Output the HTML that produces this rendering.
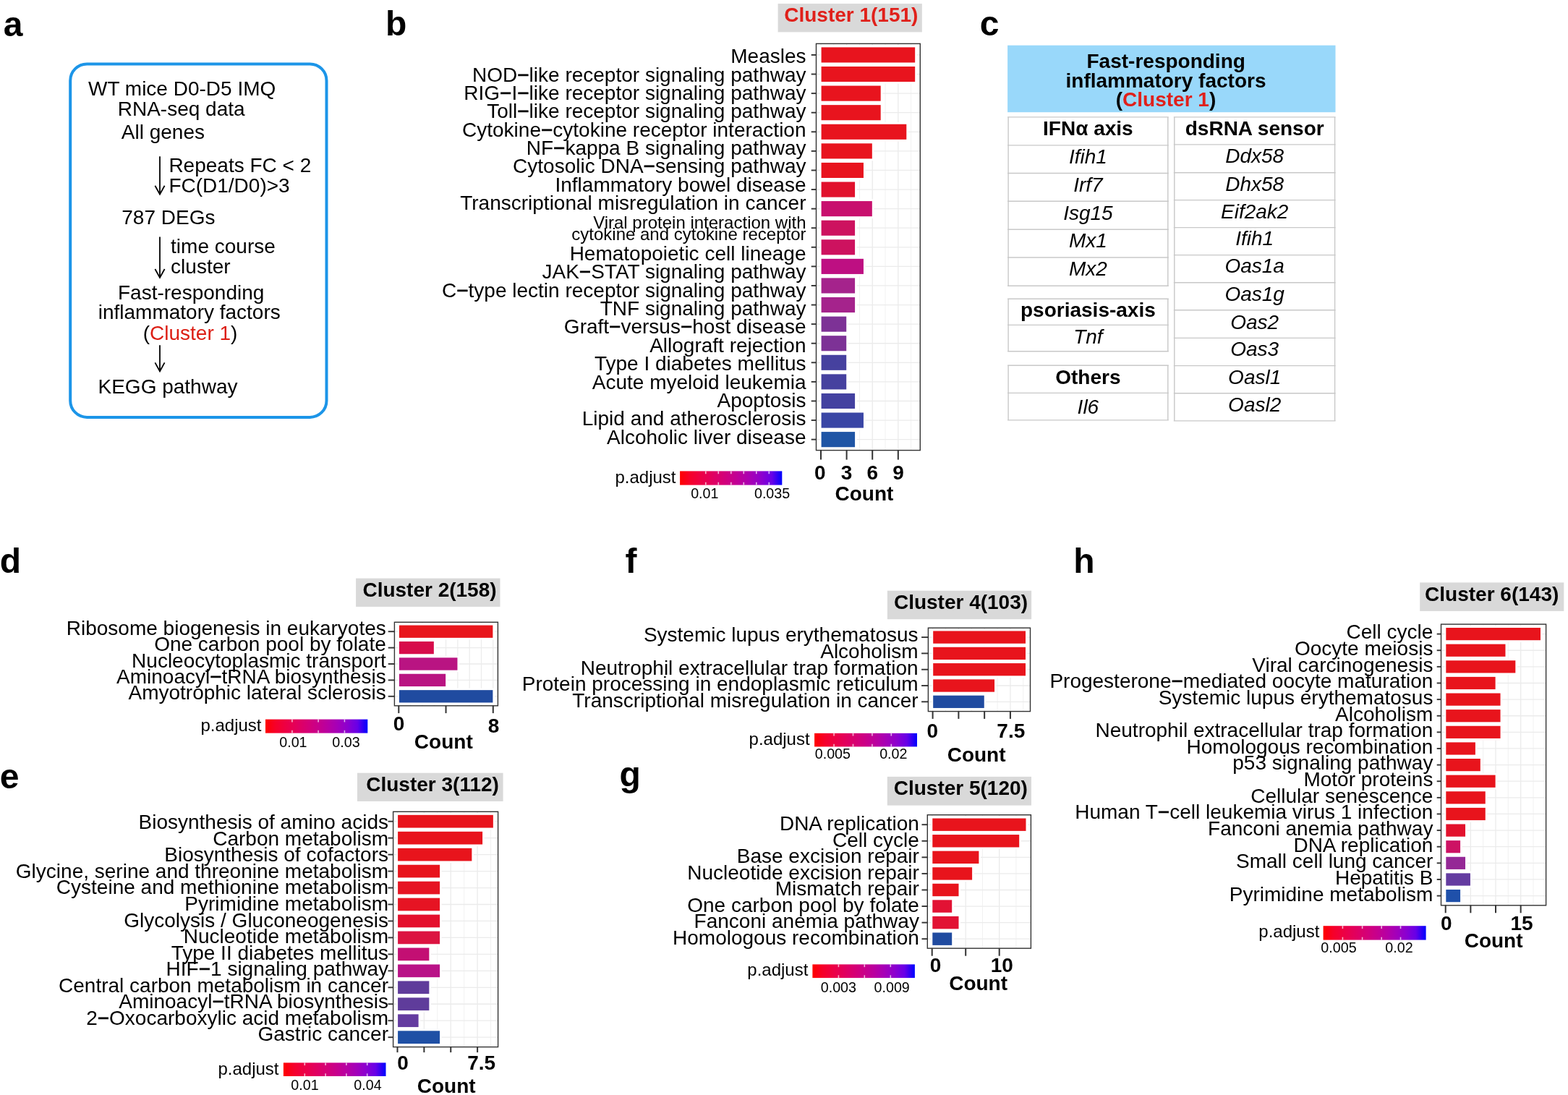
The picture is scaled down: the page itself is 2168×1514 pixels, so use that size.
<!DOCTYPE html>
<html><head><meta charset="utf-8"><title>KEGG pathway enrichment of time-course clusters</title>
<style>
html,body{margin:0;padding:0;background:#fff;}
body{width:2168px;height:1514px;overflow:hidden;}
svg{display:block;}
text{font-family:'Liberation Sans', Arial, Helvetica, sans-serif;}
</style></head>
<body>
<svg width="2168" height="1514" viewBox="0 0 2168 1514">
<rect x="0" y="0" width="2168" height="1514" fill="#fff"/>
<text x="4.7" y="49.6" font-size="48" font-weight="bold">a</text>
<text x="533.1" y="49.3" font-size="48" font-weight="bold">b</text>
<text x="1354.7" y="48.5" font-size="48" font-weight="bold">c</text>
<text x="-0.2" y="792.0" font-size="48" font-weight="bold">d</text>
<text x="-0.2" y="1089.5" font-size="48" font-weight="bold">e</text>
<text x="864.6" y="791.5" font-size="48" font-weight="bold">f</text>
<text x="856.5" y="1087.0" font-size="48" font-weight="bold">g</text>
<text x="1484.3" y="791.5" font-size="48" font-weight="bold">h</text>
<rect x="97.2" y="88.4" width="354.3" height="488.5" rx="23" ry="23" fill="none" stroke="#1c95e8" stroke-width="4"/>
<text x="122.0" y="131.5" font-size="28">WT mice D0-D5 IMQ</text>
<text x="162.7" y="159.7" font-size="28">RNA-seq data</text>
<text x="167.8" y="192.0" font-size="28">All genes</text>
<text x="233.4" y="238.0" font-size="28">Repeats FC &lt; 2</text>
<text x="233.4" y="265.5" font-size="28">FC(D1/D0)&gt;3</text>
<text x="168.3" y="309.9" font-size="28">787 DEGs</text>
<text x="236.1" y="349.8" font-size="28">time course</text>
<text x="236.1" y="377.5" font-size="28">cluster</text>
<text x="163.0" y="413.6" font-size="28">Fast-responding</text>
<text x="135.7" y="441.3" font-size="28">inflammatory factors</text>
<text x="135.5" y="543.9" font-size="28">KEGG pathway</text>
<text x="197.7" y="470.0" font-size="28">(<tspan fill="#dc1e14">Cluster 1</tspan>)</text>
<line x1="221.00" y1="216.20" x2="221.00" y2="267.70" stroke="#000" stroke-width="1.8"/>
<polyline points="214.4,256.7 221.0,268.7 227.6,256.7" fill="none" stroke="#000" stroke-width="1.8"/>
<line x1="221.00" y1="327.60" x2="221.00" y2="383.00" stroke="#000" stroke-width="1.8"/>
<polyline points="214.4,372.0 221.0,384.0 227.6,372.0" fill="none" stroke="#000" stroke-width="1.8"/>
<line x1="221.00" y1="477.30" x2="221.00" y2="512.40" stroke="#000" stroke-width="1.8"/>
<polyline points="214.4,501.4 221.0,513.4 227.6,501.4" fill="none" stroke="#000" stroke-width="1.8"/>
<rect x="1393.10" y="62.70" width="453.40" height="92.50" fill="#99d8fa"/>
<text x="1612.2" y="93.7" font-size="28" text-anchor="middle" font-weight="bold">Fast-responding</text>
<text x="1612.0" y="121.4" font-size="28" text-anchor="middle" font-weight="bold">inflammatory factors</text>
<text x="1612.0" y="147.4" font-size="28" text-anchor="middle" font-weight="bold">(<tspan fill="#e0201a">Cluster 1</tspan>)</text>
<line x1="1393.10" y1="161.90" x2="1615.80" y2="161.90" stroke="#c8c8c8" stroke-width="1.4"/>
<line x1="1393.10" y1="200.90" x2="1615.80" y2="200.90" stroke="#c8c8c8" stroke-width="1.4"/>
<line x1="1393.10" y1="239.50" x2="1615.80" y2="239.50" stroke="#c8c8c8" stroke-width="1.4"/>
<line x1="1393.10" y1="278.30" x2="1615.80" y2="278.30" stroke="#c8c8c8" stroke-width="1.4"/>
<line x1="1393.10" y1="317.20" x2="1615.80" y2="317.20" stroke="#c8c8c8" stroke-width="1.4"/>
<line x1="1393.10" y1="356.00" x2="1615.80" y2="356.00" stroke="#c8c8c8" stroke-width="1.4"/>
<line x1="1393.10" y1="395.20" x2="1615.80" y2="395.20" stroke="#c8c8c8" stroke-width="1.4"/>
<line x1="1394.10" y1="161.90" x2="1394.10" y2="395.20" stroke="#c8c8c8" stroke-width="1.4"/>
<line x1="1614.80" y1="161.90" x2="1614.80" y2="395.20" stroke="#c8c8c8" stroke-width="1.4"/>
<line x1="1393.10" y1="413.30" x2="1615.80" y2="413.30" stroke="#c8c8c8" stroke-width="1.4"/>
<line x1="1393.10" y1="449.40" x2="1615.80" y2="449.40" stroke="#c8c8c8" stroke-width="1.4"/>
<line x1="1393.10" y1="485.70" x2="1615.80" y2="485.70" stroke="#c8c8c8" stroke-width="1.4"/>
<line x1="1394.10" y1="413.30" x2="1394.10" y2="485.70" stroke="#c8c8c8" stroke-width="1.4"/>
<line x1="1614.80" y1="413.30" x2="1614.80" y2="485.70" stroke="#c8c8c8" stroke-width="1.4"/>
<line x1="1393.10" y1="505.30" x2="1615.80" y2="505.30" stroke="#c8c8c8" stroke-width="1.4"/>
<line x1="1393.10" y1="543.40" x2="1615.80" y2="543.40" stroke="#c8c8c8" stroke-width="1.4"/>
<line x1="1393.10" y1="580.90" x2="1615.80" y2="580.90" stroke="#c8c8c8" stroke-width="1.4"/>
<line x1="1394.10" y1="505.30" x2="1394.10" y2="580.90" stroke="#c8c8c8" stroke-width="1.4"/>
<line x1="1614.80" y1="505.30" x2="1614.80" y2="580.90" stroke="#c8c8c8" stroke-width="1.4"/>
<text x="1504.4" y="187.1" font-size="28" text-anchor="middle" font-weight="bold">IFNα axis</text>
<text x="1504.4" y="226.3" font-size="28" text-anchor="middle" font-style="italic">Ifih1</text>
<text x="1504.4" y="264.7" font-size="28" text-anchor="middle" font-style="italic">Irf7</text>
<text x="1504.4" y="303.5" font-size="28" text-anchor="middle" font-style="italic">Isg15</text>
<text x="1504.4" y="342.3" font-size="28" text-anchor="middle" font-style="italic">Mx1</text>
<text x="1504.4" y="381.1" font-size="28" text-anchor="middle" font-style="italic">Mx2</text>
<text x="1504.4" y="437.6" font-size="28" text-anchor="middle" font-weight="bold">psoriasis-axis</text>
<text x="1504.4" y="475.0" font-size="28" text-anchor="middle" font-style="italic">Tnf</text>
<text x="1504.4" y="530.5" font-size="28" text-anchor="middle" font-weight="bold">Others</text>
<text x="1504.4" y="572.2" font-size="28" text-anchor="middle" font-style="italic">Il6</text>
<line x1="1622.80" y1="161.90" x2="1846.60" y2="161.90" stroke="#c8c8c8" stroke-width="1.4"/>
<line x1="1622.80" y1="199.90" x2="1846.60" y2="199.90" stroke="#c8c8c8" stroke-width="1.4"/>
<line x1="1622.80" y1="238.70" x2="1846.60" y2="238.70" stroke="#c8c8c8" stroke-width="1.4"/>
<line x1="1622.80" y1="276.60" x2="1846.60" y2="276.60" stroke="#c8c8c8" stroke-width="1.4"/>
<line x1="1622.80" y1="314.60" x2="1846.60" y2="314.60" stroke="#c8c8c8" stroke-width="1.4"/>
<line x1="1622.80" y1="352.60" x2="1846.60" y2="352.60" stroke="#c8c8c8" stroke-width="1.4"/>
<line x1="1622.80" y1="390.80" x2="1846.60" y2="390.80" stroke="#c8c8c8" stroke-width="1.4"/>
<line x1="1622.80" y1="428.80" x2="1846.60" y2="428.80" stroke="#c8c8c8" stroke-width="1.4"/>
<line x1="1622.80" y1="467.40" x2="1846.60" y2="467.40" stroke="#c8c8c8" stroke-width="1.4"/>
<line x1="1622.80" y1="505.60" x2="1846.60" y2="505.60" stroke="#c8c8c8" stroke-width="1.4"/>
<line x1="1622.80" y1="543.70" x2="1846.60" y2="543.70" stroke="#c8c8c8" stroke-width="1.4"/>
<line x1="1622.80" y1="581.90" x2="1846.60" y2="581.90" stroke="#c8c8c8" stroke-width="1.4"/>
<line x1="1623.80" y1="161.90" x2="1623.80" y2="581.90" stroke="#c8c8c8" stroke-width="1.4"/>
<line x1="1845.60" y1="161.90" x2="1845.60" y2="581.90" stroke="#c8c8c8" stroke-width="1.4"/>
<text x="1734.7" y="186.7" font-size="28" text-anchor="middle" font-weight="bold">dsRNA sensor</text>
<text x="1734.7" y="225.1" font-size="28" text-anchor="middle" font-style="italic">Ddx58</text>
<text x="1734.7" y="263.6" font-size="28" text-anchor="middle" font-style="italic">Dhx58</text>
<text x="1734.7" y="301.6" font-size="28" text-anchor="middle" font-style="italic">Eif2ak2</text>
<text x="1734.7" y="339.0" font-size="28" text-anchor="middle" font-style="italic">Ifih1</text>
<text x="1734.7" y="377.0" font-size="28" text-anchor="middle" font-style="italic">Oas1a</text>
<text x="1734.7" y="416.0" font-size="28" text-anchor="middle" font-style="italic">Oas1g</text>
<text x="1734.7" y="454.9" font-size="28" text-anchor="middle" font-style="italic">Oas2</text>
<text x="1734.7" y="492.1" font-size="28" text-anchor="middle" font-style="italic">Oas3</text>
<text x="1734.7" y="530.5" font-size="28" text-anchor="middle" font-style="italic">Oasl1</text>
<text x="1734.7" y="569.0" font-size="28" text-anchor="middle" font-style="italic">Oasl2</text>
<rect x="1128.50" y="60.40" width="143.80" height="562.20" fill="#fff"/>
<line x1="1135.00" y1="60.40" x2="1135.00" y2="622.60" stroke="#ebebeb" stroke-width="1.3"/>
<line x1="1170.61" y1="60.40" x2="1170.61" y2="622.60" stroke="#ebebeb" stroke-width="1.3"/>
<line x1="1206.22" y1="60.40" x2="1206.22" y2="622.60" stroke="#ebebeb" stroke-width="1.3"/>
<line x1="1241.83" y1="60.40" x2="1241.83" y2="622.60" stroke="#ebebeb" stroke-width="1.3"/>
<line x1="1152.81" y1="60.40" x2="1152.81" y2="622.60" stroke="#ebebeb" stroke-width="0.7"/>
<line x1="1188.41" y1="60.40" x2="1188.41" y2="622.60" stroke="#ebebeb" stroke-width="0.7"/>
<line x1="1224.03" y1="60.40" x2="1224.03" y2="622.60" stroke="#ebebeb" stroke-width="0.7"/>
<line x1="1259.63" y1="60.40" x2="1259.63" y2="622.60" stroke="#ebebeb" stroke-width="0.7"/>
<line x1="1128.50" y1="75.95" x2="1272.30" y2="75.95" stroke="#ebebeb" stroke-width="1.3"/>
<line x1="1128.50" y1="102.53" x2="1272.30" y2="102.53" stroke="#ebebeb" stroke-width="1.3"/>
<line x1="1128.50" y1="129.12" x2="1272.30" y2="129.12" stroke="#ebebeb" stroke-width="1.3"/>
<line x1="1128.50" y1="155.70" x2="1272.30" y2="155.70" stroke="#ebebeb" stroke-width="1.3"/>
<line x1="1128.50" y1="182.29" x2="1272.30" y2="182.29" stroke="#ebebeb" stroke-width="1.3"/>
<line x1="1128.50" y1="208.88" x2="1272.30" y2="208.88" stroke="#ebebeb" stroke-width="1.3"/>
<line x1="1128.50" y1="235.46" x2="1272.30" y2="235.46" stroke="#ebebeb" stroke-width="1.3"/>
<line x1="1128.50" y1="262.05" x2="1272.30" y2="262.05" stroke="#ebebeb" stroke-width="1.3"/>
<line x1="1128.50" y1="288.63" x2="1272.30" y2="288.63" stroke="#ebebeb" stroke-width="1.3"/>
<line x1="1128.50" y1="315.22" x2="1272.30" y2="315.22" stroke="#ebebeb" stroke-width="1.3"/>
<line x1="1128.50" y1="341.80" x2="1272.30" y2="341.80" stroke="#ebebeb" stroke-width="1.3"/>
<line x1="1128.50" y1="368.38" x2="1272.30" y2="368.38" stroke="#ebebeb" stroke-width="1.3"/>
<line x1="1128.50" y1="394.97" x2="1272.30" y2="394.97" stroke="#ebebeb" stroke-width="1.3"/>
<line x1="1128.50" y1="421.56" x2="1272.30" y2="421.56" stroke="#ebebeb" stroke-width="1.3"/>
<line x1="1128.50" y1="448.14" x2="1272.30" y2="448.14" stroke="#ebebeb" stroke-width="1.3"/>
<line x1="1128.50" y1="474.73" x2="1272.30" y2="474.73" stroke="#ebebeb" stroke-width="1.3"/>
<line x1="1128.50" y1="501.31" x2="1272.30" y2="501.31" stroke="#ebebeb" stroke-width="1.3"/>
<line x1="1128.50" y1="527.89" x2="1272.30" y2="527.89" stroke="#ebebeb" stroke-width="1.3"/>
<line x1="1128.50" y1="554.48" x2="1272.30" y2="554.48" stroke="#ebebeb" stroke-width="1.3"/>
<line x1="1128.50" y1="581.07" x2="1272.30" y2="581.07" stroke="#ebebeb" stroke-width="1.3"/>
<line x1="1128.50" y1="607.65" x2="1272.30" y2="607.65" stroke="#ebebeb" stroke-width="1.3"/>
<rect x="1134.00" y="62.66" width="133.77" height="26.59" fill="#fff"/>
<rect x="1134.00" y="89.24" width="133.77" height="26.59" fill="#fff"/>
<rect x="1134.00" y="115.83" width="86.29" height="26.58" fill="#fff"/>
<rect x="1134.00" y="142.41" width="86.29" height="26.58" fill="#fff"/>
<rect x="1134.00" y="169.00" width="121.90" height="26.58" fill="#fff"/>
<rect x="1134.00" y="195.58" width="74.42" height="26.58" fill="#fff"/>
<rect x="1134.00" y="222.17" width="62.55" height="26.58" fill="#fff"/>
<rect x="1134.00" y="248.75" width="50.68" height="26.59" fill="#fff"/>
<rect x="1134.00" y="275.34" width="74.42" height="26.59" fill="#fff"/>
<rect x="1134.00" y="301.92" width="50.68" height="26.59" fill="#fff"/>
<rect x="1134.00" y="328.51" width="50.68" height="26.59" fill="#fff"/>
<rect x="1134.00" y="355.09" width="62.55" height="26.59" fill="#fff"/>
<rect x="1134.00" y="381.68" width="50.68" height="26.59" fill="#fff"/>
<rect x="1134.00" y="408.26" width="50.68" height="26.59" fill="#fff"/>
<rect x="1134.00" y="434.85" width="38.81" height="26.59" fill="#fff"/>
<rect x="1134.00" y="461.43" width="38.81" height="26.59" fill="#fff"/>
<rect x="1134.00" y="488.02" width="38.81" height="26.58" fill="#fff"/>
<rect x="1134.00" y="514.60" width="38.81" height="26.59" fill="#fff"/>
<rect x="1134.00" y="541.19" width="50.68" height="26.59" fill="#fff"/>
<rect x="1134.00" y="567.77" width="62.55" height="26.59" fill="#fff"/>
<rect x="1134.00" y="594.36" width="50.68" height="26.59" fill="#fff"/>
<rect x="1135.60" y="65.40" width="129.57" height="21.10" fill="#e8141e"/>
<rect x="1135.60" y="91.98" width="129.57" height="21.10" fill="#e8141e"/>
<rect x="1135.60" y="118.57" width="82.09" height="21.10" fill="#e8141e"/>
<rect x="1135.60" y="145.15" width="82.09" height="21.10" fill="#e8141e"/>
<rect x="1135.60" y="171.74" width="117.70" height="21.10" fill="#e8141e"/>
<rect x="1135.60" y="198.32" width="70.22" height="21.10" fill="#e8141e"/>
<rect x="1135.60" y="224.91" width="58.35" height="21.10" fill="#e8141e"/>
<rect x="1135.60" y="251.50" width="46.48" height="21.10" fill="#e1122d"/>
<rect x="1135.60" y="278.08" width="70.22" height="21.10" fill="#c8106e"/>
<rect x="1135.60" y="304.67" width="46.48" height="21.10" fill="#cd125f"/>
<rect x="1135.60" y="331.25" width="46.48" height="21.10" fill="#cd125f"/>
<rect x="1135.60" y="357.83" width="58.35" height="21.10" fill="#be0f82"/>
<rect x="1135.60" y="384.42" width="46.48" height="21.10" fill="#a5238c"/>
<rect x="1135.60" y="411.00" width="46.48" height="21.10" fill="#a5238c"/>
<rect x="1135.60" y="437.59" width="34.61" height="21.10" fill="#7d3296"/>
<rect x="1135.60" y="464.18" width="34.61" height="21.10" fill="#7d3296"/>
<rect x="1135.60" y="490.76" width="34.61" height="21.10" fill="#46419f"/>
<rect x="1135.60" y="517.35" width="34.61" height="21.10" fill="#46419f"/>
<rect x="1135.60" y="543.93" width="46.48" height="21.10" fill="#4341a0"/>
<rect x="1135.60" y="570.52" width="58.35" height="21.10" fill="#3a46a5"/>
<rect x="1135.60" y="597.10" width="46.48" height="21.10" fill="#1f55a5"/>
<rect x="1128.50" y="60.40" width="143.80" height="562.20" fill="none" stroke="#333" stroke-width="1.4"/>
<line x1="1121.70" y1="75.95" x2="1128.50" y2="75.95" stroke="#333" stroke-width="1.9"/>
<line x1="1121.70" y1="102.53" x2="1128.50" y2="102.53" stroke="#333" stroke-width="1.9"/>
<line x1="1121.70" y1="129.12" x2="1128.50" y2="129.12" stroke="#333" stroke-width="1.9"/>
<line x1="1121.70" y1="155.70" x2="1128.50" y2="155.70" stroke="#333" stroke-width="1.9"/>
<line x1="1121.70" y1="182.29" x2="1128.50" y2="182.29" stroke="#333" stroke-width="1.9"/>
<line x1="1121.70" y1="208.88" x2="1128.50" y2="208.88" stroke="#333" stroke-width="1.9"/>
<line x1="1121.70" y1="235.46" x2="1128.50" y2="235.46" stroke="#333" stroke-width="1.9"/>
<line x1="1121.70" y1="262.05" x2="1128.50" y2="262.05" stroke="#333" stroke-width="1.9"/>
<line x1="1121.70" y1="288.63" x2="1128.50" y2="288.63" stroke="#333" stroke-width="1.9"/>
<line x1="1121.70" y1="315.22" x2="1128.50" y2="315.22" stroke="#333" stroke-width="1.9"/>
<line x1="1121.70" y1="341.80" x2="1128.50" y2="341.80" stroke="#333" stroke-width="1.9"/>
<line x1="1121.70" y1="368.38" x2="1128.50" y2="368.38" stroke="#333" stroke-width="1.9"/>
<line x1="1121.70" y1="394.97" x2="1128.50" y2="394.97" stroke="#333" stroke-width="1.9"/>
<line x1="1121.70" y1="421.56" x2="1128.50" y2="421.56" stroke="#333" stroke-width="1.9"/>
<line x1="1121.70" y1="448.14" x2="1128.50" y2="448.14" stroke="#333" stroke-width="1.9"/>
<line x1="1121.70" y1="474.73" x2="1128.50" y2="474.73" stroke="#333" stroke-width="1.9"/>
<line x1="1121.70" y1="501.31" x2="1128.50" y2="501.31" stroke="#333" stroke-width="1.9"/>
<line x1="1121.70" y1="527.89" x2="1128.50" y2="527.89" stroke="#333" stroke-width="1.9"/>
<line x1="1121.70" y1="554.48" x2="1128.50" y2="554.48" stroke="#333" stroke-width="1.9"/>
<line x1="1121.70" y1="581.07" x2="1128.50" y2="581.07" stroke="#333" stroke-width="1.9"/>
<line x1="1121.70" y1="607.65" x2="1128.50" y2="607.65" stroke="#333" stroke-width="1.9"/>
<line x1="1135.00" y1="622.60" x2="1135.00" y2="635.60" stroke="#333" stroke-width="2.0"/>
<line x1="1170.61" y1="622.60" x2="1170.61" y2="635.60" stroke="#333" stroke-width="2.0"/>
<line x1="1206.22" y1="622.60" x2="1206.22" y2="635.60" stroke="#333" stroke-width="2.0"/>
<line x1="1241.83" y1="622.60" x2="1241.83" y2="635.60" stroke="#333" stroke-width="2.0"/>
<text x="1133.8" y="663.1" font-size="28" text-anchor="middle" font-weight="bold">0</text>
<text x="1170.5" y="663.1" font-size="28" text-anchor="middle" font-weight="bold">3</text>
<text x="1206.3" y="663.1" font-size="28" text-anchor="middle" font-weight="bold">6</text>
<text x="1242.0" y="663.1" font-size="28" text-anchor="middle" font-weight="bold">9</text>
<text x="1194.9" y="692.2" font-size="28" text-anchor="middle" font-weight="bold">Count</text>
<text x="1114.5" y="87.2" font-size="28" text-anchor="end">Measles</text>
<text x="1114.5" y="112.6" font-size="28" text-anchor="end">NOD<tspan stroke="#000" stroke-width="0.6">−</tspan>like receptor signaling pathway</text>
<text x="1114.5" y="137.9" font-size="28" text-anchor="end">RIG<tspan stroke="#000" stroke-width="0.6">−</tspan>I<tspan stroke="#000" stroke-width="0.6">−</tspan>like receptor signaling pathway</text>
<text x="1114.5" y="163.2" font-size="28" text-anchor="end">Toll<tspan stroke="#000" stroke-width="0.6">−</tspan>like receptor signaling pathway</text>
<text x="1114.5" y="188.6" font-size="28" text-anchor="end">Cytokine<tspan stroke="#000" stroke-width="0.6">−</tspan>cytokine receptor interaction</text>
<text x="1114.5" y="213.9" font-size="28" text-anchor="end">NF<tspan stroke="#000" stroke-width="0.6">−</tspan>kappa B signaling pathway</text>
<text x="1114.5" y="239.3" font-size="28" text-anchor="end">Cytosolic DNA<tspan stroke="#000" stroke-width="0.6">−</tspan>sensing pathway</text>
<text x="1114.5" y="264.7" font-size="28" text-anchor="end">Inflammatory bowel disease</text>
<text x="1114.5" y="290.0" font-size="28" text-anchor="end">Transcriptional misregulation in cancer</text>
<text x="1114.5" y="315.7" font-size="24" text-anchor="end">Viral protein interaction with</text>
<text x="1114.5" y="332.3" font-size="24" text-anchor="end">cytokine and cytokine receptor</text>
<text x="1114.5" y="359.8" font-size="28" text-anchor="end">Hematopoietic cell lineage</text>
<text x="1114.5" y="385.2" font-size="28" text-anchor="end">JAK<tspan stroke="#000" stroke-width="0.6">−</tspan>STAT signaling pathway</text>
<text x="1114.5" y="410.6" font-size="28" text-anchor="end">C<tspan stroke="#000" stroke-width="0.6">−</tspan>type lectin receptor signaling pathway</text>
<text x="1114.5" y="436.0" font-size="28" text-anchor="end">TNF signaling pathway</text>
<text x="1114.5" y="461.4" font-size="28" text-anchor="end">Graft<tspan stroke="#000" stroke-width="0.6">−</tspan>versus<tspan stroke="#000" stroke-width="0.6">−</tspan>host disease</text>
<text x="1114.5" y="486.8" font-size="28" text-anchor="end">Allograft rejection</text>
<text x="1114.5" y="512.1" font-size="28" text-anchor="end">Type I diabetes mellitus</text>
<text x="1114.5" y="537.5" font-size="28" text-anchor="end">Acute myeloid leukemia</text>
<text x="1114.5" y="562.9" font-size="28" text-anchor="end">Apoptosis</text>
<text x="1114.5" y="588.3" font-size="28" text-anchor="end">Lipid and atherosclerosis</text>
<text x="1114.5" y="613.7" font-size="28" text-anchor="end">Alcoholic liver disease</text>
<text x="934.5" y="668.4" font-size="24" text-anchor="end">p.adjust</text>
<defs><linearGradient id="g1" x1="0" y1="0" x2="1" y2="0"><stop offset="0.00" stop-color="#ff0000"/><stop offset="0.10" stop-color="#f6002a"/><stop offset="0.20" stop-color="#ed0044"/><stop offset="0.30" stop-color="#e3005b"/><stop offset="0.40" stop-color="#d70072"/><stop offset="0.50" stop-color="#ca0088"/><stop offset="0.60" stop-color="#ba009f"/><stop offset="0.70" stop-color="#a600b7"/><stop offset="0.80" stop-color="#8d00ce"/><stop offset="0.90" stop-color="#6800e7"/><stop offset="1.00" stop-color="#0000ff"/></linearGradient></defs>
<rect x="940.10" y="651.40" width="141.20" height="19.20" fill="url(#g1)"/>
<line x1="975.80" y1="651.40" x2="975.80" y2="655.24" stroke="#fff" stroke-width="1.6" opacity="0.7"/>
<line x1="975.80" y1="666.76" x2="975.80" y2="670.60" stroke="#fff" stroke-width="1.6" opacity="0.7"/>
<line x1="993.30" y1="651.40" x2="993.30" y2="655.24" stroke="#fff" stroke-width="1.6" opacity="0.7"/>
<line x1="993.30" y1="666.76" x2="993.30" y2="670.60" stroke="#fff" stroke-width="1.6" opacity="0.7"/>
<line x1="1010.80" y1="651.40" x2="1010.80" y2="655.24" stroke="#fff" stroke-width="1.6" opacity="0.7"/>
<line x1="1010.80" y1="666.76" x2="1010.80" y2="670.60" stroke="#fff" stroke-width="1.6" opacity="0.7"/>
<line x1="1028.30" y1="651.40" x2="1028.30" y2="655.24" stroke="#fff" stroke-width="1.6" opacity="0.7"/>
<line x1="1028.30" y1="666.76" x2="1028.30" y2="670.60" stroke="#fff" stroke-width="1.6" opacity="0.7"/>
<line x1="1045.80" y1="651.40" x2="1045.80" y2="655.24" stroke="#fff" stroke-width="1.6" opacity="0.7"/>
<line x1="1045.80" y1="666.76" x2="1045.80" y2="670.60" stroke="#fff" stroke-width="1.6" opacity="0.7"/>
<line x1="1063.30" y1="651.40" x2="1063.30" y2="655.24" stroke="#fff" stroke-width="1.6" opacity="0.7"/>
<line x1="1063.30" y1="666.76" x2="1063.30" y2="670.60" stroke="#fff" stroke-width="1.6" opacity="0.7"/>
<text x="974.3" y="688.6" font-size="19.7" text-anchor="middle">0.01</text>
<text x="1067.6" y="688.6" font-size="19.7" text-anchor="middle">0.035</text>
<rect x="1075.60" y="5.10" width="199.20" height="39.30" fill="#d9d9d9"/>
<text x="1176.8" y="30.4" font-size="28" text-anchor="middle" font-weight="bold" fill="#e0201a">Cluster 1(151)</text>
<rect x="545.40" y="860.30" width="143.00" height="115.50" fill="#fff"/>
<line x1="551.30" y1="860.30" x2="551.30" y2="975.80" stroke="#ebebeb" stroke-width="1.2"/>
<line x1="567.61" y1="860.30" x2="567.61" y2="975.80" stroke="#ebebeb" stroke-width="1.2"/>
<line x1="583.92" y1="860.30" x2="583.92" y2="975.80" stroke="#ebebeb" stroke-width="1.2"/>
<line x1="600.23" y1="860.30" x2="600.23" y2="975.80" stroke="#ebebeb" stroke-width="1.2"/>
<line x1="616.54" y1="860.30" x2="616.54" y2="975.80" stroke="#ebebeb" stroke-width="1.2"/>
<line x1="632.85" y1="860.30" x2="632.85" y2="975.80" stroke="#ebebeb" stroke-width="1.2"/>
<line x1="649.16" y1="860.30" x2="649.16" y2="975.80" stroke="#ebebeb" stroke-width="1.2"/>
<line x1="665.47" y1="860.30" x2="665.47" y2="975.80" stroke="#ebebeb" stroke-width="1.2"/>
<line x1="681.78" y1="860.30" x2="681.78" y2="975.80" stroke="#ebebeb" stroke-width="1.2"/>
<line x1="545.40" y1="873.20" x2="688.40" y2="873.20" stroke="#ebebeb" stroke-width="1.3"/>
<line x1="545.40" y1="895.60" x2="688.40" y2="895.60" stroke="#ebebeb" stroke-width="1.3"/>
<line x1="545.40" y1="918.00" x2="688.40" y2="918.00" stroke="#ebebeb" stroke-width="1.3"/>
<line x1="545.40" y1="940.40" x2="688.40" y2="940.40" stroke="#ebebeb" stroke-width="1.3"/>
<line x1="545.40" y1="962.80" x2="688.40" y2="962.80" stroke="#ebebeb" stroke-width="1.3"/>
<rect x="550.30" y="862.00" width="133.68" height="22.40" fill="#fff"/>
<rect x="550.30" y="884.40" width="52.13" height="22.40" fill="#fff"/>
<rect x="550.30" y="906.80" width="84.75" height="22.40" fill="#fff"/>
<rect x="550.30" y="929.20" width="68.44" height="22.40" fill="#fff"/>
<rect x="550.30" y="951.60" width="133.68" height="22.40" fill="#fff"/>
<rect x="551.90" y="864.55" width="129.48" height="17.30" fill="#e8161c"/>
<rect x="551.90" y="886.95" width="47.93" height="17.30" fill="#d70c4b"/>
<rect x="551.90" y="909.35" width="80.55" height="17.30" fill="#b91482"/>
<rect x="551.90" y="931.75" width="64.24" height="17.30" fill="#b91482"/>
<rect x="551.90" y="954.15" width="129.48" height="17.30" fill="#204ba0"/>
<rect x="545.40" y="860.30" width="143.00" height="115.50" fill="none" stroke="#333" stroke-width="1.4"/>
<line x1="536.70" y1="873.20" x2="545.40" y2="873.20" stroke="#333" stroke-width="1.9"/>
<line x1="536.70" y1="895.60" x2="545.40" y2="895.60" stroke="#333" stroke-width="1.9"/>
<line x1="536.70" y1="918.00" x2="545.40" y2="918.00" stroke="#333" stroke-width="1.9"/>
<line x1="536.70" y1="940.40" x2="545.40" y2="940.40" stroke="#333" stroke-width="1.9"/>
<line x1="536.70" y1="962.80" x2="545.40" y2="962.80" stroke="#333" stroke-width="1.9"/>
<line x1="551.30" y1="975.80" x2="551.30" y2="986.10" stroke="#333" stroke-width="2.0"/>
<line x1="616.54" y1="975.80" x2="616.54" y2="986.10" stroke="#333" stroke-width="2.0"/>
<line x1="681.78" y1="975.80" x2="681.78" y2="986.10" stroke="#333" stroke-width="2.0"/>
<text x="551.5" y="1010.4" font-size="28" text-anchor="middle" font-weight="bold">0</text>
<text x="682.6" y="1013.1" font-size="28" text-anchor="middle" font-weight="bold">8</text>
<text x="613.3" y="1034.5" font-size="28" text-anchor="middle" font-weight="bold">Count</text>
<text x="533.8" y="877.8" font-size="28" text-anchor="end">Ribosome biogenesis in eukaryotes</text>
<text x="533.8" y="900.2" font-size="28" text-anchor="end">One carbon pool by folate</text>
<text x="533.8" y="922.6" font-size="28" text-anchor="end">Nucleocytoplasmic transport</text>
<text x="533.8" y="945.0" font-size="28" text-anchor="end">Aminoacyl<tspan stroke="#000" stroke-width="0.6">−</tspan>tRNA biosynthesis</text>
<text x="533.8" y="967.4" font-size="28" text-anchor="end">Amyotrophic lateral sclerosis</text>
<text x="361.5" y="1010.9" font-size="24" text-anchor="end">p.adjust</text>
<defs><linearGradient id="g2" x1="0" y1="0" x2="1" y2="0"><stop offset="0.00" stop-color="#ff0000"/><stop offset="0.10" stop-color="#f6002a"/><stop offset="0.20" stop-color="#ed0044"/><stop offset="0.30" stop-color="#e3005b"/><stop offset="0.40" stop-color="#d70072"/><stop offset="0.50" stop-color="#ca0088"/><stop offset="0.60" stop-color="#ba009f"/><stop offset="0.70" stop-color="#a600b7"/><stop offset="0.80" stop-color="#8d00ce"/><stop offset="0.90" stop-color="#6800e7"/><stop offset="1.00" stop-color="#0000ff"/></linearGradient></defs>
<rect x="367.00" y="994.60" width="141.30" height="19.00" fill="url(#g2)"/>
<line x1="403.90" y1="994.60" x2="403.90" y2="998.40" stroke="#fff" stroke-width="1.6" opacity="0.7"/>
<line x1="403.90" y1="1009.80" x2="403.90" y2="1013.60" stroke="#fff" stroke-width="1.6" opacity="0.7"/>
<line x1="440.10" y1="994.60" x2="440.10" y2="998.40" stroke="#fff" stroke-width="1.6" opacity="0.7"/>
<line x1="440.10" y1="1009.80" x2="440.10" y2="1013.60" stroke="#fff" stroke-width="1.6" opacity="0.7"/>
<line x1="476.40" y1="994.60" x2="476.40" y2="998.40" stroke="#fff" stroke-width="1.6" opacity="0.7"/>
<line x1="476.40" y1="1009.80" x2="476.40" y2="1013.60" stroke="#fff" stroke-width="1.6" opacity="0.7"/>
<text x="405.4" y="1032.8" font-size="19.7" text-anchor="middle">0.01</text>
<text x="478.5" y="1032.8" font-size="19.7" text-anchor="middle">0.03</text>
<rect x="492.10" y="799.60" width="199.40" height="39.30" fill="#d9d9d9"/>
<text x="594.0" y="825.0" font-size="28" text-anchor="middle" font-weight="bold">Cluster 2(158)</text>
<rect x="543.60" y="1122.30" width="145.00" height="325.30" fill="#fff"/>
<line x1="549.50" y1="1122.30" x2="549.50" y2="1447.60" stroke="#ebebeb" stroke-width="1.3"/>
<line x1="586.38" y1="1122.30" x2="586.38" y2="1447.60" stroke="#ebebeb" stroke-width="1.3"/>
<line x1="623.25" y1="1122.30" x2="623.25" y2="1447.60" stroke="#ebebeb" stroke-width="1.3"/>
<line x1="660.12" y1="1122.30" x2="660.12" y2="1447.60" stroke="#ebebeb" stroke-width="1.3"/>
<line x1="567.94" y1="1122.30" x2="567.94" y2="1447.60" stroke="#ebebeb" stroke-width="0.7"/>
<line x1="604.81" y1="1122.30" x2="604.81" y2="1447.60" stroke="#ebebeb" stroke-width="0.7"/>
<line x1="641.69" y1="1122.30" x2="641.69" y2="1447.60" stroke="#ebebeb" stroke-width="0.7"/>
<line x1="678.56" y1="1122.30" x2="678.56" y2="1447.60" stroke="#ebebeb" stroke-width="0.7"/>
<line x1="543.60" y1="1135.70" x2="688.60" y2="1135.70" stroke="#ebebeb" stroke-width="1.3"/>
<line x1="543.60" y1="1158.66" x2="688.60" y2="1158.66" stroke="#ebebeb" stroke-width="1.3"/>
<line x1="543.60" y1="1181.62" x2="688.60" y2="1181.62" stroke="#ebebeb" stroke-width="1.3"/>
<line x1="543.60" y1="1204.58" x2="688.60" y2="1204.58" stroke="#ebebeb" stroke-width="1.3"/>
<line x1="543.60" y1="1227.54" x2="688.60" y2="1227.54" stroke="#ebebeb" stroke-width="1.3"/>
<line x1="543.60" y1="1250.50" x2="688.60" y2="1250.50" stroke="#ebebeb" stroke-width="1.3"/>
<line x1="543.60" y1="1273.46" x2="688.60" y2="1273.46" stroke="#ebebeb" stroke-width="1.3"/>
<line x1="543.60" y1="1296.42" x2="688.60" y2="1296.42" stroke="#ebebeb" stroke-width="1.3"/>
<line x1="543.60" y1="1319.38" x2="688.60" y2="1319.38" stroke="#ebebeb" stroke-width="1.3"/>
<line x1="543.60" y1="1342.34" x2="688.60" y2="1342.34" stroke="#ebebeb" stroke-width="1.3"/>
<line x1="543.60" y1="1365.30" x2="688.60" y2="1365.30" stroke="#ebebeb" stroke-width="1.3"/>
<line x1="543.60" y1="1388.26" x2="688.60" y2="1388.26" stroke="#ebebeb" stroke-width="1.3"/>
<line x1="543.60" y1="1411.22" x2="688.60" y2="1411.22" stroke="#ebebeb" stroke-width="1.3"/>
<line x1="543.60" y1="1434.18" x2="688.60" y2="1434.18" stroke="#ebebeb" stroke-width="1.3"/>
<rect x="548.50" y="1124.22" width="135.95" height="22.96" fill="#fff"/>
<rect x="548.50" y="1147.18" width="121.20" height="22.96" fill="#fff"/>
<rect x="548.50" y="1170.14" width="106.45" height="22.96" fill="#fff"/>
<rect x="548.50" y="1193.10" width="62.20" height="22.96" fill="#fff"/>
<rect x="548.50" y="1216.06" width="62.20" height="22.96" fill="#fff"/>
<rect x="548.50" y="1239.02" width="62.20" height="22.96" fill="#fff"/>
<rect x="548.50" y="1261.98" width="62.20" height="22.96" fill="#fff"/>
<rect x="548.50" y="1284.94" width="62.20" height="22.96" fill="#fff"/>
<rect x="548.50" y="1307.90" width="47.45" height="22.96" fill="#fff"/>
<rect x="548.50" y="1330.86" width="62.20" height="22.96" fill="#fff"/>
<rect x="548.50" y="1353.82" width="47.45" height="22.96" fill="#fff"/>
<rect x="548.50" y="1376.78" width="47.45" height="22.96" fill="#fff"/>
<rect x="548.50" y="1399.74" width="32.70" height="22.96" fill="#fff"/>
<rect x="548.50" y="1422.70" width="62.20" height="22.96" fill="#fff"/>
<rect x="550.10" y="1126.85" width="131.75" height="17.70" fill="#e8141c"/>
<rect x="550.10" y="1149.81" width="117.00" height="17.70" fill="#e8141c"/>
<rect x="550.10" y="1172.77" width="102.25" height="17.70" fill="#e8141c"/>
<rect x="550.10" y="1195.73" width="58.00" height="17.70" fill="#e8141c"/>
<rect x="550.10" y="1218.69" width="58.00" height="17.70" fill="#e61423"/>
<rect x="550.10" y="1241.65" width="58.00" height="17.70" fill="#e61423"/>
<rect x="550.10" y="1264.61" width="58.00" height="17.70" fill="#e4102d"/>
<rect x="550.10" y="1287.57" width="58.00" height="17.70" fill="#dc1441"/>
<rect x="550.10" y="1310.53" width="43.25" height="17.70" fill="#c30f73"/>
<rect x="550.10" y="1333.49" width="58.00" height="17.70" fill="#b91287"/>
<rect x="550.10" y="1356.45" width="43.25" height="17.70" fill="#5f3c9b"/>
<rect x="550.10" y="1379.41" width="43.25" height="17.70" fill="#5f3c9b"/>
<rect x="550.10" y="1402.37" width="28.50" height="17.70" fill="#643ca0"/>
<rect x="550.10" y="1425.33" width="58.00" height="17.70" fill="#1f50a5"/>
<rect x="543.60" y="1122.30" width="145.00" height="325.30" fill="none" stroke="#333" stroke-width="1.4"/>
<line x1="536.50" y1="1135.70" x2="543.60" y2="1135.70" stroke="#333" stroke-width="1.9"/>
<line x1="536.50" y1="1158.66" x2="543.60" y2="1158.66" stroke="#333" stroke-width="1.9"/>
<line x1="536.50" y1="1181.62" x2="543.60" y2="1181.62" stroke="#333" stroke-width="1.9"/>
<line x1="536.50" y1="1204.58" x2="543.60" y2="1204.58" stroke="#333" stroke-width="1.9"/>
<line x1="536.50" y1="1227.54" x2="543.60" y2="1227.54" stroke="#333" stroke-width="1.9"/>
<line x1="536.50" y1="1250.50" x2="543.60" y2="1250.50" stroke="#333" stroke-width="1.9"/>
<line x1="536.50" y1="1273.46" x2="543.60" y2="1273.46" stroke="#333" stroke-width="1.9"/>
<line x1="536.50" y1="1296.42" x2="543.60" y2="1296.42" stroke="#333" stroke-width="1.9"/>
<line x1="536.50" y1="1319.38" x2="543.60" y2="1319.38" stroke="#333" stroke-width="1.9"/>
<line x1="536.50" y1="1342.34" x2="543.60" y2="1342.34" stroke="#333" stroke-width="1.9"/>
<line x1="536.50" y1="1365.30" x2="543.60" y2="1365.30" stroke="#333" stroke-width="1.9"/>
<line x1="536.50" y1="1388.26" x2="543.60" y2="1388.26" stroke="#333" stroke-width="1.9"/>
<line x1="536.50" y1="1411.22" x2="543.60" y2="1411.22" stroke="#333" stroke-width="1.9"/>
<line x1="536.50" y1="1434.18" x2="543.60" y2="1434.18" stroke="#333" stroke-width="1.9"/>
<line x1="549.50" y1="1447.60" x2="549.50" y2="1455.10" stroke="#333" stroke-width="2.0"/>
<line x1="586.38" y1="1447.60" x2="586.38" y2="1455.10" stroke="#333" stroke-width="2.0"/>
<line x1="623.25" y1="1447.60" x2="623.25" y2="1455.10" stroke="#333" stroke-width="2.0"/>
<line x1="660.12" y1="1447.60" x2="660.12" y2="1455.10" stroke="#333" stroke-width="2.0"/>
<text x="557.0" y="1479.1" font-size="28" text-anchor="middle" font-weight="bold">0</text>
<text x="665.7" y="1479.1" font-size="28" text-anchor="middle" font-weight="bold">7.5</text>
<text x="617.2" y="1511.2" font-size="28" text-anchor="middle" font-weight="bold">Count</text>
<text x="537.0" y="1146.1" font-size="28" text-anchor="end">Biosynthesis of amino acids</text>
<text x="537.0" y="1168.7" font-size="28" text-anchor="end">Carbon metabolism</text>
<text x="537.0" y="1191.2" font-size="28" text-anchor="end">Biosynthesis of cofactors</text>
<text x="537.0" y="1213.8" font-size="28" text-anchor="end">Glycine, serine and threonine metabolism</text>
<text x="537.0" y="1236.3" font-size="28" text-anchor="end">Cysteine and methionine metabolism</text>
<text x="537.0" y="1258.9" font-size="28" text-anchor="end">Pyrimidine metabolism</text>
<text x="537.0" y="1281.5" font-size="28" text-anchor="end">Glycolysis / Gluconeogenesis</text>
<text x="537.0" y="1304.0" font-size="28" text-anchor="end">Nucleotide metabolism</text>
<text x="537.0" y="1326.6" font-size="28" text-anchor="end">Type II diabetes mellitus</text>
<text x="537.0" y="1349.1" font-size="28" text-anchor="end">HIF<tspan stroke="#000" stroke-width="0.6">−</tspan>1 signaling pathway</text>
<text x="537.0" y="1371.7" font-size="28" text-anchor="end">Central carbon metabolism in cancer</text>
<text x="537.0" y="1394.3" font-size="28" text-anchor="end">Aminoacyl<tspan stroke="#000" stroke-width="0.6">−</tspan>tRNA biosynthesis</text>
<text x="537.0" y="1416.8" font-size="28" text-anchor="end">2<tspan stroke="#000" stroke-width="0.6">−</tspan>Oxocarboxylic acid metabolism</text>
<text x="537.0" y="1439.4" font-size="28" text-anchor="end">Gastric cancer</text>
<text x="385.5" y="1485.6" font-size="24" text-anchor="end">p.adjust</text>
<defs><linearGradient id="g3" x1="0" y1="0" x2="1" y2="0"><stop offset="0.00" stop-color="#ff0000"/><stop offset="0.10" stop-color="#f6002a"/><stop offset="0.20" stop-color="#ed0044"/><stop offset="0.30" stop-color="#e3005b"/><stop offset="0.40" stop-color="#d70072"/><stop offset="0.50" stop-color="#ca0088"/><stop offset="0.60" stop-color="#ba009f"/><stop offset="0.70" stop-color="#a600b7"/><stop offset="0.80" stop-color="#8d00ce"/><stop offset="0.90" stop-color="#6800e7"/><stop offset="1.00" stop-color="#0000ff"/></linearGradient></defs>
<rect x="391.90" y="1469.40" width="141.60" height="18.60" fill="url(#g3)"/>
<line x1="421.30" y1="1469.40" x2="421.30" y2="1473.12" stroke="#fff" stroke-width="1.6" opacity="0.7"/>
<line x1="421.30" y1="1484.28" x2="421.30" y2="1488.00" stroke="#fff" stroke-width="1.6" opacity="0.7"/>
<line x1="450.10" y1="1469.40" x2="450.10" y2="1473.12" stroke="#fff" stroke-width="1.6" opacity="0.7"/>
<line x1="450.10" y1="1484.28" x2="450.10" y2="1488.00" stroke="#fff" stroke-width="1.6" opacity="0.7"/>
<line x1="478.90" y1="1469.40" x2="478.90" y2="1473.12" stroke="#fff" stroke-width="1.6" opacity="0.7"/>
<line x1="478.90" y1="1484.28" x2="478.90" y2="1488.00" stroke="#fff" stroke-width="1.6" opacity="0.7"/>
<line x1="507.70" y1="1469.40" x2="507.70" y2="1473.12" stroke="#fff" stroke-width="1.6" opacity="0.7"/>
<line x1="507.70" y1="1484.28" x2="507.70" y2="1488.00" stroke="#fff" stroke-width="1.6" opacity="0.7"/>
<text x="421.5" y="1506.8" font-size="19.7" text-anchor="middle">0.01</text>
<text x="508.5" y="1506.8" font-size="19.7" text-anchor="middle">0.04</text>
<rect x="494.00" y="1068.70" width="201.60" height="39.20" fill="#d9d9d9"/>
<text x="598.1" y="1093.8" font-size="28" text-anchor="middle" font-weight="bold">Cluster 3(112)</text>
<rect x="1283.40" y="868.20" width="141.10" height="115.40" fill="#fff"/>
<line x1="1289.60" y1="868.20" x2="1289.60" y2="983.60" stroke="#ebebeb" stroke-width="1.3"/>
<line x1="1325.38" y1="868.20" x2="1325.38" y2="983.60" stroke="#ebebeb" stroke-width="1.3"/>
<line x1="1361.15" y1="868.20" x2="1361.15" y2="983.60" stroke="#ebebeb" stroke-width="1.3"/>
<line x1="1396.92" y1="868.20" x2="1396.92" y2="983.60" stroke="#ebebeb" stroke-width="1.3"/>
<line x1="1307.49" y1="868.20" x2="1307.49" y2="983.60" stroke="#ebebeb" stroke-width="0.7"/>
<line x1="1343.26" y1="868.20" x2="1343.26" y2="983.60" stroke="#ebebeb" stroke-width="0.7"/>
<line x1="1379.04" y1="868.20" x2="1379.04" y2="983.60" stroke="#ebebeb" stroke-width="0.7"/>
<line x1="1414.81" y1="868.20" x2="1414.81" y2="983.60" stroke="#ebebeb" stroke-width="0.7"/>
<line x1="1283.40" y1="881.10" x2="1424.50" y2="881.10" stroke="#ebebeb" stroke-width="1.3"/>
<line x1="1283.40" y1="903.40" x2="1424.50" y2="903.40" stroke="#ebebeb" stroke-width="1.3"/>
<line x1="1283.40" y1="925.70" x2="1424.50" y2="925.70" stroke="#ebebeb" stroke-width="1.3"/>
<line x1="1283.40" y1="948.00" x2="1424.50" y2="948.00" stroke="#ebebeb" stroke-width="1.3"/>
<line x1="1283.40" y1="970.30" x2="1424.50" y2="970.30" stroke="#ebebeb" stroke-width="1.3"/>
<rect x="1288.60" y="869.95" width="131.99" height="22.30" fill="#fff"/>
<rect x="1288.60" y="892.25" width="131.99" height="22.30" fill="#fff"/>
<rect x="1288.60" y="914.55" width="131.99" height="22.30" fill="#fff"/>
<rect x="1288.60" y="936.85" width="89.06" height="22.30" fill="#fff"/>
<rect x="1288.60" y="959.15" width="74.75" height="22.30" fill="#fff"/>
<rect x="1290.20" y="872.45" width="127.79" height="17.30" fill="#e8141c"/>
<rect x="1290.20" y="894.75" width="127.79" height="17.30" fill="#e8141c"/>
<rect x="1290.20" y="917.05" width="127.79" height="17.30" fill="#e8141c"/>
<rect x="1290.20" y="939.35" width="84.86" height="17.30" fill="#e8141c"/>
<rect x="1290.20" y="961.65" width="70.55" height="17.30" fill="#204ba0"/>
<rect x="1283.40" y="868.20" width="141.10" height="115.40" fill="none" stroke="#333" stroke-width="1.4"/>
<line x1="1274.10" y1="881.10" x2="1283.40" y2="881.10" stroke="#333" stroke-width="1.9"/>
<line x1="1274.10" y1="903.40" x2="1283.40" y2="903.40" stroke="#333" stroke-width="1.9"/>
<line x1="1274.10" y1="925.70" x2="1283.40" y2="925.70" stroke="#333" stroke-width="1.9"/>
<line x1="1274.10" y1="948.00" x2="1283.40" y2="948.00" stroke="#333" stroke-width="1.9"/>
<line x1="1274.10" y1="970.30" x2="1283.40" y2="970.30" stroke="#333" stroke-width="1.9"/>
<line x1="1289.60" y1="983.60" x2="1289.60" y2="993.90" stroke="#333" stroke-width="2.0"/>
<line x1="1325.38" y1="983.60" x2="1325.38" y2="993.90" stroke="#333" stroke-width="2.0"/>
<line x1="1361.15" y1="983.60" x2="1361.15" y2="993.90" stroke="#333" stroke-width="2.0"/>
<line x1="1396.92" y1="983.60" x2="1396.92" y2="993.90" stroke="#333" stroke-width="2.0"/>
<text x="1289.4" y="1019.7" font-size="28" text-anchor="middle" font-weight="bold">0</text>
<text x="1397.8" y="1019.7" font-size="28" text-anchor="middle" font-weight="bold">7.5</text>
<text x="1350.1" y="1053.2" font-size="28" text-anchor="middle" font-weight="bold">Count</text>
<text x="1269.6" y="887.3" font-size="28" text-anchor="end">Systemic lupus erythematosus</text>
<text x="1269.6" y="910.0" font-size="28" text-anchor="end">Alcoholism</text>
<text x="1269.6" y="932.7" font-size="28" text-anchor="end">Neutrophil extracellular trap formation</text>
<text x="1269.6" y="955.4" font-size="28" text-anchor="end">Protein processing in endoplasmic reticulum</text>
<text x="1269.6" y="978.1" font-size="28" text-anchor="end">Transcriptional misregulation in cancer</text>
<text x="1119.6" y="1030.0" font-size="24" text-anchor="end">p.adjust</text>
<defs><linearGradient id="g4" x1="0" y1="0" x2="1" y2="0"><stop offset="0.00" stop-color="#ff0000"/><stop offset="0.10" stop-color="#f6002a"/><stop offset="0.20" stop-color="#ed0044"/><stop offset="0.30" stop-color="#e3005b"/><stop offset="0.40" stop-color="#d70072"/><stop offset="0.50" stop-color="#ca0088"/><stop offset="0.60" stop-color="#ba009f"/><stop offset="0.70" stop-color="#a600b7"/><stop offset="0.80" stop-color="#8d00ce"/><stop offset="0.90" stop-color="#6800e7"/><stop offset="1.00" stop-color="#0000ff"/></linearGradient></defs>
<rect x="1126.10" y="1013.80" width="141.90" height="18.60" fill="url(#g4)"/>
<line x1="1153.10" y1="1013.80" x2="1153.10" y2="1017.52" stroke="#fff" stroke-width="1.6" opacity="0.7"/>
<line x1="1153.10" y1="1028.68" x2="1153.10" y2="1032.40" stroke="#fff" stroke-width="1.6" opacity="0.7"/>
<line x1="1179.50" y1="1013.80" x2="1179.50" y2="1017.52" stroke="#fff" stroke-width="1.6" opacity="0.7"/>
<line x1="1179.50" y1="1028.68" x2="1179.50" y2="1032.40" stroke="#fff" stroke-width="1.6" opacity="0.7"/>
<line x1="1205.90" y1="1013.80" x2="1205.90" y2="1017.52" stroke="#fff" stroke-width="1.6" opacity="0.7"/>
<line x1="1205.90" y1="1028.68" x2="1205.90" y2="1032.40" stroke="#fff" stroke-width="1.6" opacity="0.7"/>
<line x1="1232.30" y1="1013.80" x2="1232.30" y2="1017.52" stroke="#fff" stroke-width="1.6" opacity="0.7"/>
<line x1="1232.30" y1="1028.68" x2="1232.30" y2="1032.40" stroke="#fff" stroke-width="1.6" opacity="0.7"/>
<text x="1151.4" y="1049.2" font-size="19.7" text-anchor="middle">0.005</text>
<text x="1235.3" y="1049.2" font-size="19.7" text-anchor="middle">0.02</text>
<rect x="1226.90" y="816.70" width="199.20" height="39.50" fill="#d9d9d9"/>
<text x="1328.5" y="841.9" font-size="28" text-anchor="middle" font-weight="bold">Cluster 4(103)</text>
<rect x="1282.30" y="1126.70" width="143.10" height="184.50" fill="#fff"/>
<line x1="1288.70" y1="1126.70" x2="1288.70" y2="1311.20" stroke="#ebebeb" stroke-width="1.3"/>
<line x1="1335.20" y1="1126.70" x2="1335.20" y2="1311.20" stroke="#ebebeb" stroke-width="1.3"/>
<line x1="1381.70" y1="1126.70" x2="1381.70" y2="1311.20" stroke="#ebebeb" stroke-width="1.3"/>
<line x1="1311.95" y1="1126.70" x2="1311.95" y2="1311.20" stroke="#ebebeb" stroke-width="0.7"/>
<line x1="1358.45" y1="1126.70" x2="1358.45" y2="1311.20" stroke="#ebebeb" stroke-width="0.7"/>
<line x1="1404.95" y1="1126.70" x2="1404.95" y2="1311.20" stroke="#ebebeb" stroke-width="0.7"/>
<line x1="1282.30" y1="1140.20" x2="1425.40" y2="1140.20" stroke="#ebebeb" stroke-width="1.3"/>
<line x1="1282.30" y1="1162.77" x2="1425.40" y2="1162.77" stroke="#ebebeb" stroke-width="1.3"/>
<line x1="1282.30" y1="1185.34" x2="1425.40" y2="1185.34" stroke="#ebebeb" stroke-width="1.3"/>
<line x1="1282.30" y1="1207.91" x2="1425.40" y2="1207.91" stroke="#ebebeb" stroke-width="1.3"/>
<line x1="1282.30" y1="1230.48" x2="1425.40" y2="1230.48" stroke="#ebebeb" stroke-width="1.3"/>
<line x1="1282.30" y1="1253.05" x2="1425.40" y2="1253.05" stroke="#ebebeb" stroke-width="1.3"/>
<line x1="1282.30" y1="1275.62" x2="1425.40" y2="1275.62" stroke="#ebebeb" stroke-width="1.3"/>
<line x1="1282.30" y1="1298.19" x2="1425.40" y2="1298.19" stroke="#ebebeb" stroke-width="1.3"/>
<rect x="1287.70" y="1128.91" width="133.40" height="22.57" fill="#fff"/>
<rect x="1287.70" y="1151.48" width="124.10" height="22.57" fill="#fff"/>
<rect x="1287.70" y="1174.06" width="68.30" height="22.57" fill="#fff"/>
<rect x="1287.70" y="1196.62" width="59.00" height="22.57" fill="#fff"/>
<rect x="1287.70" y="1219.19" width="40.40" height="22.57" fill="#fff"/>
<rect x="1287.70" y="1241.76" width="31.10" height="22.57" fill="#fff"/>
<rect x="1287.70" y="1264.34" width="40.40" height="22.57" fill="#fff"/>
<rect x="1287.70" y="1286.90" width="31.10" height="22.57" fill="#fff"/>
<rect x="1289.30" y="1131.50" width="129.20" height="17.40" fill="#e8141c"/>
<rect x="1289.30" y="1154.07" width="119.90" height="17.40" fill="#e8141c"/>
<rect x="1289.30" y="1176.64" width="64.10" height="17.40" fill="#e8141c"/>
<rect x="1289.30" y="1199.21" width="54.80" height="17.40" fill="#e8141c"/>
<rect x="1289.30" y="1221.78" width="36.20" height="17.40" fill="#e8141c"/>
<rect x="1289.30" y="1244.35" width="26.90" height="17.40" fill="#e21234"/>
<rect x="1289.30" y="1266.92" width="36.20" height="17.40" fill="#e21234"/>
<rect x="1289.30" y="1289.49" width="26.90" height="17.40" fill="#204ba0"/>
<rect x="1282.30" y="1126.70" width="143.10" height="184.50" fill="none" stroke="#333" stroke-width="1.4"/>
<line x1="1274.50" y1="1140.20" x2="1282.30" y2="1140.20" stroke="#333" stroke-width="1.9"/>
<line x1="1274.50" y1="1162.77" x2="1282.30" y2="1162.77" stroke="#333" stroke-width="1.9"/>
<line x1="1274.50" y1="1185.34" x2="1282.30" y2="1185.34" stroke="#333" stroke-width="1.9"/>
<line x1="1274.50" y1="1207.91" x2="1282.30" y2="1207.91" stroke="#333" stroke-width="1.9"/>
<line x1="1274.50" y1="1230.48" x2="1282.30" y2="1230.48" stroke="#333" stroke-width="1.9"/>
<line x1="1274.50" y1="1253.05" x2="1282.30" y2="1253.05" stroke="#333" stroke-width="1.9"/>
<line x1="1274.50" y1="1275.62" x2="1282.30" y2="1275.62" stroke="#333" stroke-width="1.9"/>
<line x1="1274.50" y1="1298.19" x2="1282.30" y2="1298.19" stroke="#333" stroke-width="1.9"/>
<line x1="1288.70" y1="1311.20" x2="1288.70" y2="1321.70" stroke="#333" stroke-width="2.0"/>
<line x1="1335.20" y1="1311.20" x2="1335.20" y2="1321.70" stroke="#333" stroke-width="2.0"/>
<line x1="1381.70" y1="1311.20" x2="1381.70" y2="1321.70" stroke="#333" stroke-width="2.0"/>
<text x="1293.5" y="1343.5" font-size="28" text-anchor="middle" font-weight="bold">0</text>
<text x="1385.3" y="1343.5" font-size="28" text-anchor="middle" font-weight="bold">10</text>
<text x="1352.6" y="1369.3" font-size="28" text-anchor="middle" font-weight="bold">Count</text>
<text x="1270.9" y="1148.2" font-size="28" text-anchor="end">DNA replication</text>
<text x="1270.9" y="1170.7" font-size="28" text-anchor="end">Cell cycle</text>
<text x="1270.9" y="1193.3" font-size="28" text-anchor="end">Base excision repair</text>
<text x="1270.9" y="1215.8" font-size="28" text-anchor="end">Nucleotide excision repair</text>
<text x="1270.9" y="1238.4" font-size="28" text-anchor="end">Mismatch repair</text>
<text x="1270.9" y="1260.9" font-size="28" text-anchor="end">One carbon pool by folate</text>
<text x="1270.9" y="1283.4" font-size="28" text-anchor="end">Fanconi anemia pathway</text>
<text x="1270.9" y="1306.0" font-size="28" text-anchor="end">Homologous recombination</text>
<text x="1117.4" y="1349.4" font-size="24" text-anchor="end">p.adjust</text>
<defs><linearGradient id="g5" x1="0" y1="0" x2="1" y2="0"><stop offset="0.00" stop-color="#ff0000"/><stop offset="0.10" stop-color="#f6002a"/><stop offset="0.20" stop-color="#ed0044"/><stop offset="0.30" stop-color="#e3005b"/><stop offset="0.40" stop-color="#d70072"/><stop offset="0.50" stop-color="#ca0088"/><stop offset="0.60" stop-color="#ba009f"/><stop offset="0.70" stop-color="#a600b7"/><stop offset="0.80" stop-color="#8d00ce"/><stop offset="0.90" stop-color="#6800e7"/><stop offset="1.00" stop-color="#0000ff"/></linearGradient></defs>
<rect x="1123.40" y="1333.40" width="141.50" height="18.70" fill="url(#g5)"/>
<line x1="1159.40" y1="1333.40" x2="1159.40" y2="1337.14" stroke="#fff" stroke-width="1.6" opacity="0.7"/>
<line x1="1159.40" y1="1348.36" x2="1159.40" y2="1352.10" stroke="#fff" stroke-width="1.6" opacity="0.7"/>
<line x1="1195.30" y1="1333.40" x2="1195.30" y2="1337.14" stroke="#fff" stroke-width="1.6" opacity="0.7"/>
<line x1="1195.30" y1="1348.36" x2="1195.30" y2="1352.10" stroke="#fff" stroke-width="1.6" opacity="0.7"/>
<line x1="1231.30" y1="1333.40" x2="1231.30" y2="1337.14" stroke="#fff" stroke-width="1.6" opacity="0.7"/>
<line x1="1231.30" y1="1348.36" x2="1231.30" y2="1352.10" stroke="#fff" stroke-width="1.6" opacity="0.7"/>
<text x="1159.4" y="1372.2" font-size="19.7" text-anchor="middle">0.003</text>
<text x="1233.2" y="1372.2" font-size="19.7" text-anchor="middle">0.009</text>
<rect x="1226.80" y="1073.90" width="199.20" height="39.70" fill="#d9d9d9"/>
<text x="1328.3" y="1098.8" font-size="28" text-anchor="middle" font-weight="bold">Cluster 5(120)</text>
<rect x="1992.50" y="863.10" width="145.10" height="388.70" fill="#fff"/>
<line x1="1998.70" y1="863.10" x2="1998.70" y2="1251.80" stroke="#ebebeb" stroke-width="1.3"/>
<line x1="2033.35" y1="863.10" x2="2033.35" y2="1251.80" stroke="#ebebeb" stroke-width="1.3"/>
<line x1="2068.00" y1="863.10" x2="2068.00" y2="1251.80" stroke="#ebebeb" stroke-width="1.3"/>
<line x1="2102.65" y1="863.10" x2="2102.65" y2="1251.80" stroke="#ebebeb" stroke-width="1.3"/>
<line x1="2016.03" y1="863.10" x2="2016.03" y2="1251.80" stroke="#ebebeb" stroke-width="0.7"/>
<line x1="2050.68" y1="863.10" x2="2050.68" y2="1251.80" stroke="#ebebeb" stroke-width="0.7"/>
<line x1="2085.32" y1="863.10" x2="2085.32" y2="1251.80" stroke="#ebebeb" stroke-width="0.7"/>
<line x1="2119.97" y1="863.10" x2="2119.97" y2="1251.80" stroke="#ebebeb" stroke-width="0.7"/>
<line x1="1992.50" y1="876.60" x2="2137.60" y2="876.60" stroke="#ebebeb" stroke-width="1.3"/>
<line x1="1992.50" y1="899.23" x2="2137.60" y2="899.23" stroke="#ebebeb" stroke-width="1.3"/>
<line x1="1992.50" y1="921.85" x2="2137.60" y2="921.85" stroke="#ebebeb" stroke-width="1.3"/>
<line x1="1992.50" y1="944.48" x2="2137.60" y2="944.48" stroke="#ebebeb" stroke-width="1.3"/>
<line x1="1992.50" y1="967.10" x2="2137.60" y2="967.10" stroke="#ebebeb" stroke-width="1.3"/>
<line x1="1992.50" y1="989.73" x2="2137.60" y2="989.73" stroke="#ebebeb" stroke-width="1.3"/>
<line x1="1992.50" y1="1012.35" x2="2137.60" y2="1012.35" stroke="#ebebeb" stroke-width="1.3"/>
<line x1="1992.50" y1="1034.97" x2="2137.60" y2="1034.97" stroke="#ebebeb" stroke-width="1.3"/>
<line x1="1992.50" y1="1057.60" x2="2137.60" y2="1057.60" stroke="#ebebeb" stroke-width="1.3"/>
<line x1="1992.50" y1="1080.22" x2="2137.60" y2="1080.22" stroke="#ebebeb" stroke-width="1.3"/>
<line x1="1992.50" y1="1102.85" x2="2137.60" y2="1102.85" stroke="#ebebeb" stroke-width="1.3"/>
<line x1="1992.50" y1="1125.47" x2="2137.60" y2="1125.47" stroke="#ebebeb" stroke-width="1.3"/>
<line x1="1992.50" y1="1148.10" x2="2137.60" y2="1148.10" stroke="#ebebeb" stroke-width="1.3"/>
<line x1="1992.50" y1="1170.72" x2="2137.60" y2="1170.72" stroke="#ebebeb" stroke-width="1.3"/>
<line x1="1992.50" y1="1193.35" x2="2137.60" y2="1193.35" stroke="#ebebeb" stroke-width="1.3"/>
<line x1="1992.50" y1="1215.97" x2="2137.60" y2="1215.97" stroke="#ebebeb" stroke-width="1.3"/>
<line x1="1992.50" y1="1238.60" x2="2137.60" y2="1238.60" stroke="#ebebeb" stroke-width="1.3"/>
<rect x="1997.70" y="865.29" width="134.87" height="22.62" fill="#fff"/>
<rect x="1997.70" y="887.91" width="86.36" height="22.62" fill="#fff"/>
<rect x="1997.70" y="910.54" width="100.22" height="22.62" fill="#fff"/>
<rect x="1997.70" y="933.16" width="72.50" height="22.62" fill="#fff"/>
<rect x="1997.70" y="955.79" width="79.43" height="22.62" fill="#fff"/>
<rect x="1997.70" y="978.41" width="79.43" height="22.62" fill="#fff"/>
<rect x="1997.70" y="1001.04" width="79.43" height="22.62" fill="#fff"/>
<rect x="1997.70" y="1023.66" width="44.78" height="22.62" fill="#fff"/>
<rect x="1997.70" y="1046.29" width="51.71" height="22.62" fill="#fff"/>
<rect x="1997.70" y="1068.91" width="72.50" height="22.62" fill="#fff"/>
<rect x="1997.70" y="1091.54" width="58.64" height="22.62" fill="#fff"/>
<rect x="1997.70" y="1114.16" width="58.64" height="22.62" fill="#fff"/>
<rect x="1997.70" y="1136.79" width="30.92" height="22.62" fill="#fff"/>
<rect x="1997.70" y="1159.41" width="23.99" height="22.62" fill="#fff"/>
<rect x="1997.70" y="1182.04" width="30.92" height="22.62" fill="#fff"/>
<rect x="1997.70" y="1204.66" width="37.85" height="22.62" fill="#fff"/>
<rect x="1997.70" y="1227.29" width="23.99" height="22.62" fill="#fff"/>
<rect x="1999.30" y="868.00" width="130.67" height="17.20" fill="#e8141c"/>
<rect x="1999.30" y="890.62" width="82.16" height="17.20" fill="#e8141c"/>
<rect x="1999.30" y="913.25" width="96.02" height="17.20" fill="#e8141c"/>
<rect x="1999.30" y="935.88" width="68.30" height="17.20" fill="#e8141c"/>
<rect x="1999.30" y="958.50" width="75.23" height="17.20" fill="#e8141c"/>
<rect x="1999.30" y="981.12" width="75.23" height="17.20" fill="#e8141c"/>
<rect x="1999.30" y="1003.75" width="75.23" height="17.20" fill="#e8141c"/>
<rect x="1999.30" y="1026.38" width="40.58" height="17.20" fill="#e8141c"/>
<rect x="1999.30" y="1049.00" width="47.51" height="17.20" fill="#e8141c"/>
<rect x="1999.30" y="1071.62" width="68.30" height="17.20" fill="#e8141c"/>
<rect x="1999.30" y="1094.25" width="54.44" height="17.20" fill="#e8141c"/>
<rect x="1999.30" y="1116.88" width="54.44" height="17.20" fill="#e8141c"/>
<rect x="1999.30" y="1139.50" width="26.72" height="17.20" fill="#e2122d"/>
<rect x="1999.30" y="1162.12" width="19.79" height="17.20" fill="#cd1264"/>
<rect x="1999.30" y="1184.75" width="26.72" height="17.20" fill="#952896"/>
<rect x="1999.30" y="1207.38" width="33.65" height="17.20" fill="#643ca0"/>
<rect x="1999.30" y="1230.00" width="19.79" height="17.20" fill="#1f50aa"/>
<rect x="1992.50" y="863.10" width="145.10" height="388.70" fill="none" stroke="#333" stroke-width="1.4"/>
<line x1="1986.70" y1="876.60" x2="1992.50" y2="876.60" stroke="#333" stroke-width="1.9"/>
<line x1="1986.70" y1="899.23" x2="1992.50" y2="899.23" stroke="#333" stroke-width="1.9"/>
<line x1="1986.70" y1="921.85" x2="1992.50" y2="921.85" stroke="#333" stroke-width="1.9"/>
<line x1="1986.70" y1="944.48" x2="1992.50" y2="944.48" stroke="#333" stroke-width="1.9"/>
<line x1="1986.70" y1="967.10" x2="1992.50" y2="967.10" stroke="#333" stroke-width="1.9"/>
<line x1="1986.70" y1="989.73" x2="1992.50" y2="989.73" stroke="#333" stroke-width="1.9"/>
<line x1="1986.70" y1="1012.35" x2="1992.50" y2="1012.35" stroke="#333" stroke-width="1.9"/>
<line x1="1986.70" y1="1034.97" x2="1992.50" y2="1034.97" stroke="#333" stroke-width="1.9"/>
<line x1="1986.70" y1="1057.60" x2="1992.50" y2="1057.60" stroke="#333" stroke-width="1.9"/>
<line x1="1986.70" y1="1080.22" x2="1992.50" y2="1080.22" stroke="#333" stroke-width="1.9"/>
<line x1="1986.70" y1="1102.85" x2="1992.50" y2="1102.85" stroke="#333" stroke-width="1.9"/>
<line x1="1986.70" y1="1125.47" x2="1992.50" y2="1125.47" stroke="#333" stroke-width="1.9"/>
<line x1="1986.70" y1="1148.10" x2="1992.50" y2="1148.10" stroke="#333" stroke-width="1.9"/>
<line x1="1986.70" y1="1170.72" x2="1992.50" y2="1170.72" stroke="#333" stroke-width="1.9"/>
<line x1="1986.70" y1="1193.35" x2="1992.50" y2="1193.35" stroke="#333" stroke-width="1.9"/>
<line x1="1986.70" y1="1215.97" x2="1992.50" y2="1215.97" stroke="#333" stroke-width="1.9"/>
<line x1="1986.70" y1="1238.60" x2="1992.50" y2="1238.60" stroke="#333" stroke-width="1.9"/>
<line x1="1998.70" y1="1251.80" x2="1998.70" y2="1262.30" stroke="#333" stroke-width="2.0"/>
<line x1="2033.35" y1="1251.80" x2="2033.35" y2="1262.30" stroke="#333" stroke-width="2.0"/>
<line x1="2068.00" y1="1251.80" x2="2068.00" y2="1262.30" stroke="#333" stroke-width="2.0"/>
<line x1="2102.65" y1="1251.80" x2="2102.65" y2="1262.30" stroke="#333" stroke-width="2.0"/>
<text x="1999.7" y="1285.6" font-size="28" text-anchor="middle" font-weight="bold">0</text>
<text x="2104.0" y="1285.6" font-size="28" text-anchor="middle" font-weight="bold">15</text>
<text x="2065.1" y="1309.6" font-size="28" text-anchor="middle" font-weight="bold">Count</text>
<text x="1981.4" y="883.4" font-size="28" text-anchor="end">Cell cycle</text>
<text x="1981.4" y="906.0" font-size="28" text-anchor="end">Oocyte meiosis</text>
<text x="1981.4" y="928.7" font-size="28" text-anchor="end">Viral carcinogenesis</text>
<text x="1981.4" y="951.3" font-size="28" text-anchor="end">Progesterone<tspan stroke="#000" stroke-width="0.6">−</tspan>mediated oocyte maturation</text>
<text x="1981.4" y="973.9" font-size="28" text-anchor="end">Systemic lupus erythematosus</text>
<text x="1981.4" y="996.5" font-size="28" text-anchor="end">Alcoholism</text>
<text x="1981.4" y="1019.2" font-size="28" text-anchor="end">Neutrophil extracellular trap formation</text>
<text x="1981.4" y="1041.8" font-size="28" text-anchor="end">Homologous recombination</text>
<text x="1981.4" y="1064.4" font-size="28" text-anchor="end">p53 signaling pathway</text>
<text x="1981.4" y="1087.1" font-size="28" text-anchor="end">Motor proteins</text>
<text x="1981.4" y="1109.7" font-size="28" text-anchor="end">Cellular senescence</text>
<text x="1981.4" y="1132.3" font-size="28" text-anchor="end">Human T<tspan stroke="#000" stroke-width="0.6">−</tspan>cell leukemia virus 1 infection</text>
<text x="1981.4" y="1155.0" font-size="28" text-anchor="end">Fanconi anemia pathway</text>
<text x="1981.4" y="1177.6" font-size="28" text-anchor="end">DNA replication</text>
<text x="1981.4" y="1200.2" font-size="28" text-anchor="end">Small cell lung cancer</text>
<text x="1981.4" y="1222.8" font-size="28" text-anchor="end">Hepatitis B</text>
<text x="1981.4" y="1245.5" font-size="28" text-anchor="end">Pyrimidine metabolism</text>
<text x="1824.4" y="1295.7" font-size="24" text-anchor="end">p.adjust</text>
<defs><linearGradient id="g6" x1="0" y1="0" x2="1" y2="0"><stop offset="0.00" stop-color="#ff0000"/><stop offset="0.10" stop-color="#f6002a"/><stop offset="0.20" stop-color="#ed0044"/><stop offset="0.30" stop-color="#e3005b"/><stop offset="0.40" stop-color="#d70072"/><stop offset="0.50" stop-color="#ca0088"/><stop offset="0.60" stop-color="#ba009f"/><stop offset="0.70" stop-color="#a600b7"/><stop offset="0.80" stop-color="#8d00ce"/><stop offset="0.90" stop-color="#6800e7"/><stop offset="1.00" stop-color="#0000ff"/></linearGradient></defs>
<rect x="1829.60" y="1280.20" width="142.00" height="19.40" fill="url(#g6)"/>
<line x1="1856.40" y1="1280.20" x2="1856.40" y2="1284.08" stroke="#fff" stroke-width="1.6" opacity="0.7"/>
<line x1="1856.40" y1="1295.72" x2="1856.40" y2="1299.60" stroke="#fff" stroke-width="1.6" opacity="0.7"/>
<line x1="1883.60" y1="1280.20" x2="1883.60" y2="1284.08" stroke="#fff" stroke-width="1.6" opacity="0.7"/>
<line x1="1883.60" y1="1295.72" x2="1883.60" y2="1299.60" stroke="#fff" stroke-width="1.6" opacity="0.7"/>
<line x1="1910.20" y1="1280.20" x2="1910.20" y2="1284.08" stroke="#fff" stroke-width="1.6" opacity="0.7"/>
<line x1="1910.20" y1="1295.72" x2="1910.20" y2="1299.60" stroke="#fff" stroke-width="1.6" opacity="0.7"/>
<line x1="1936.50" y1="1280.20" x2="1936.50" y2="1284.08" stroke="#fff" stroke-width="1.6" opacity="0.7"/>
<line x1="1936.50" y1="1295.72" x2="1936.50" y2="1299.60" stroke="#fff" stroke-width="1.6" opacity="0.7"/>
<text x="1851.0" y="1316.9" font-size="19.7" text-anchor="middle">0.005</text>
<text x="1934.5" y="1316.9" font-size="19.7" text-anchor="middle">0.02</text>
<rect x="1963.20" y="805.40" width="199.10" height="39.50" fill="#d9d9d9"/>
<text x="2062.7" y="831.1" font-size="28" text-anchor="middle" font-weight="bold">Cluster 6(143)</text>
</svg>
</body></html>
